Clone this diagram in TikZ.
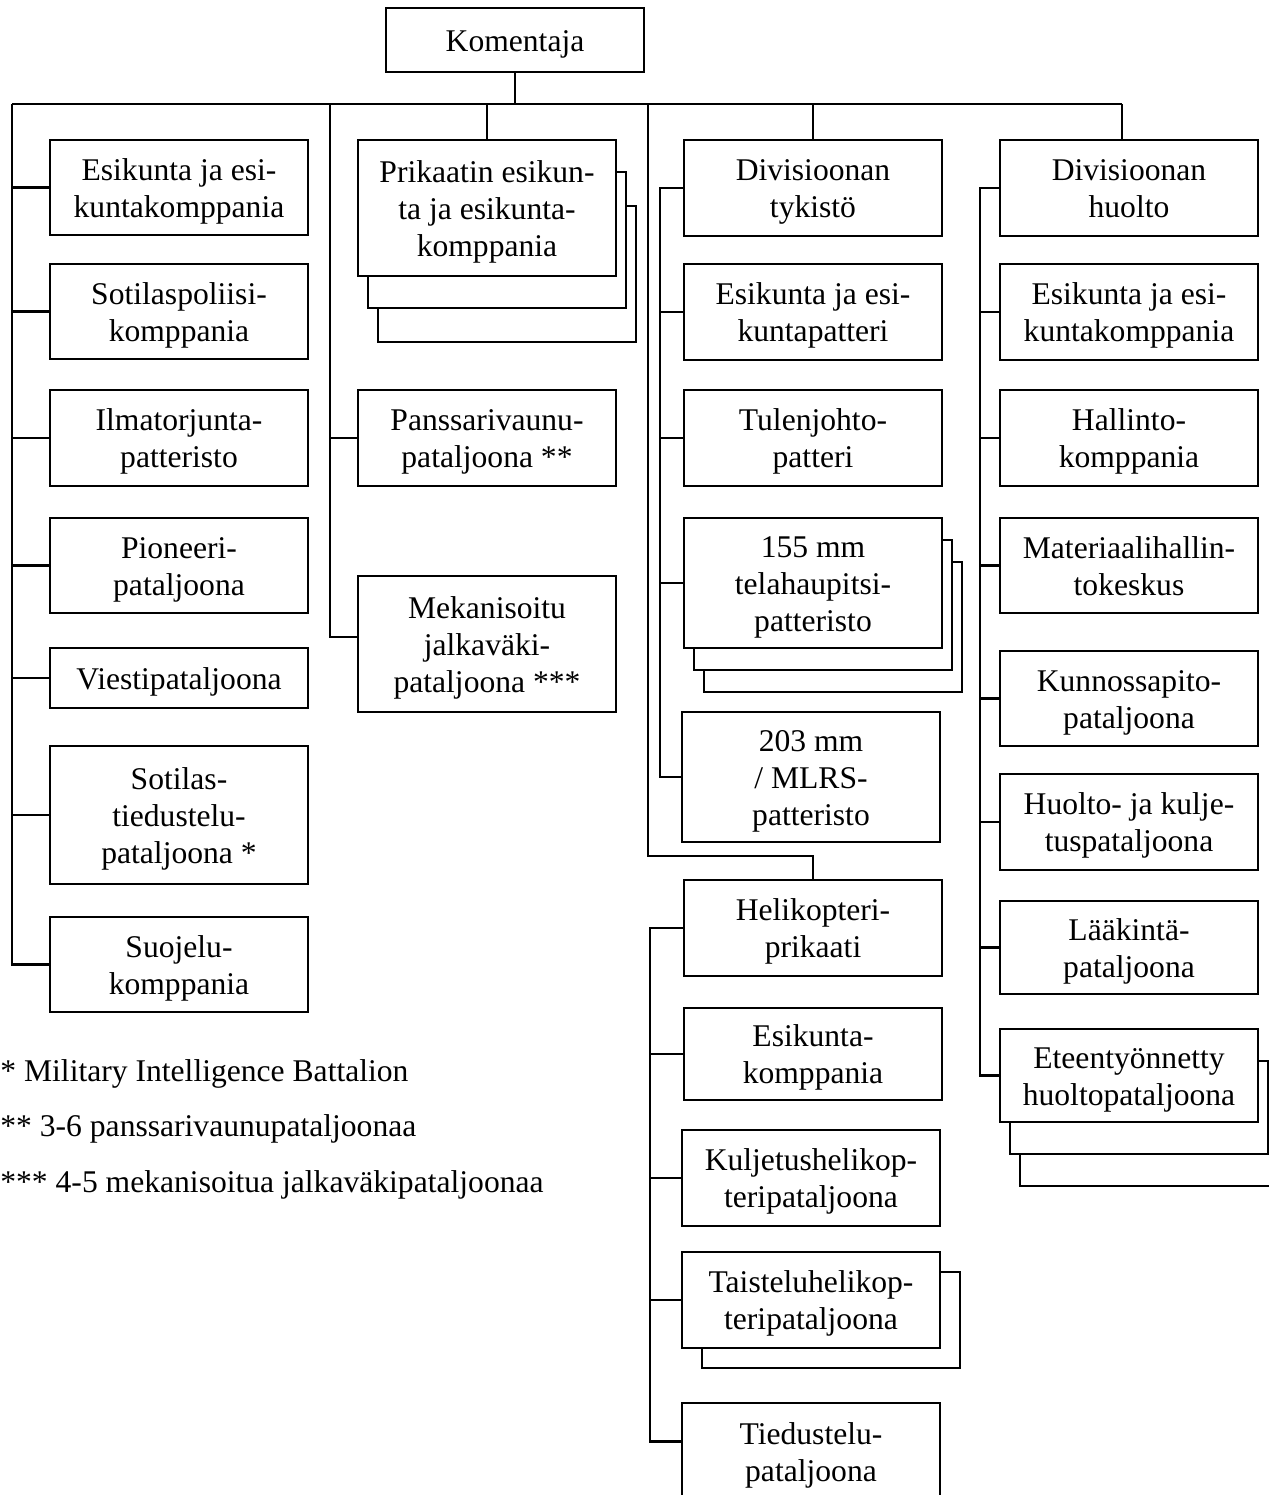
\documentclass[tikz,border=0pt]{standalone}
\usepackage{fontspec}
\setmainfont{Liberation Serif}
\newcommand{\boxfont}{\fontsize{15.8}{18.5}\selectfont}
\begin{document}
\begin{tikzpicture}[x=0.5pt,y=-0.5pt,
  box/.style={draw, line width=0.7pt, fill=white, minimum width=129pt,
    text width=127pt, inner xsep=1pt, inner ysep=0pt, align=flush center, font=\boxfont,
    execute at begin node={\rule{0pt}{15.5pt}},
    execute at end node={\rule[-4.5pt]{0pt}{0pt}}},
  backbox/.style={draw, line width=0.7pt, fill=white, minimum width=129pt, inner sep=0pt},
  conn/.style={line width=1.4pt, line join=miter},
  note/.style={anchor=base west, inner sep=0pt, font=\boxfont}]
\useasboundingbox (0,0) rectangle (1269,1495);
\clip (0,0) rectangle (1269,1495);

% commander
\node[box, minimum height=32pt] (kom) at (515,40) {Komentaja};

% first column
\node[box, minimum height=47.5pt] (c1a) at (179,187.5) {Esikunta ja esi-\\kuntakomppania};
\node[box, minimum height=47.5pt] (c1b) at (179,311.5) {Sotilaspoliisi-\\komppania};
\node[box, minimum height=48pt]   (c1c) at (179,438) {Ilmatorjunta-\\patteristo};
\node[box, minimum height=47.5pt] (c1d) at (179,565.5) {Pioneeri-\\pataljoona};
\node[box, minimum height=30pt]   (c1e) at (179,678) {Viestipataljoona};
\node[box, minimum height=69pt]   (c1f) at (179,815) {Sotilas-\\tiedustelu-\\pataljoona *};
\node[box, minimum height=47.5pt] (c1g) at (179,964.5) {Suojelu-\\komppania};

% second column
\node[backbox, minimum height=68pt] (pk3) at (507,274) {};
\node[backbox, minimum height=68pt] (pk2) at (497,240) {};
\node[box, minimum height=68pt] (pk) at (487,208) {Prikaatin esikun-\\ta ja esikunta-\\komppania};
\node[box, minimum height=48pt] (pv) at (487,438) {Panssarivaunu-\\pataljoona **};
\node[box, minimum height=68pt] (mek) at (487,644) {Mekanisoitu\\jalkaväki-\\pataljoona ***};

% divisional artillery
\node[box, minimum height=48pt] (dt) at (813,188) {Divisioonan\\tykistö};
\node[box, minimum height=48pt] (ep) at (813,312) {Esikunta ja esi-\\kuntapatteri};
\node[box, minimum height=48pt] (tj) at (813,438) {Tulenjohto-\\patteri};
\node[backbox, minimum height=65pt] (mmc) at (833,627) {};
\node[backbox, minimum height=65pt] (mmb) at (823,605) {};
\node[box, minimum height=65pt] (mma) at (813,583) {155 mm\\telahaupitsi-\\patteristo};
\node[box, minimum height=65pt] (mlrs) at (811,777) {203 mm\\/ MLRS-\\patteristo};

% helicopter brigade
\node[box, minimum height=48pt] (heli) at (813,928) {Helikopteri-\\prikaati};
\node[box, minimum height=46pt] (ek) at (813,1054) {Esikunta-\\komppania};
\node[box, minimum height=48pt] (kul) at (811,1178) {Kuljetushelikop-\\teripataljoona};
\node[backbox, minimum height=48pt] (tai2) at (831,1320) {};
\node[box, minimum height=48pt] (tai) at (811,1300) {Taisteluhelikop-\\teripataljoona};
\node[box, minimum height=48.5pt] (tied) at (811,1451.5) {Tiedustelu-\\pataljoona};

% divisional support
\node[box, minimum height=48pt] (dh) at (1129,188) {Divisioonan\\huolto};
\node[box, minimum height=48pt] (e4) at (1129,312) {Esikunta ja esi-\\kuntakomppania};
\node[box, minimum height=48pt] (hal) at (1129,438) {Hallinto-\\komppania};
\node[box, minimum height=47.5pt] (mat) at (1129,565.5) {Materiaalihallin-\\tokeskus};
\node[box, minimum height=47.5pt] (kun) at (1129,698.5) {Kunnossapito-\\pataljoona};
\node[box, minimum height=48pt] (hk) at (1129,822) {Huolto- ja kulje-\\tuspataljoona};
\node[box, minimum height=46.5pt] (laa) at (1129,947.5) {Lääkintä-\\pataljoona};
\node[backbox, minimum height=46.5pt] (ete3) at (1149,1139.5) {};
\node[backbox, minimum height=46.5pt] (ete2) at (1139,1107.5) {};
\node[box, minimum height=46.5pt] (ete) at (1129,1075.5) {Eteentyönnetty\\huoltopataljoona};

% footnotes
\node[note] (fn1) at (0,1081) {* Military Intelligence Battalion};
\node[note] (fn2) at (0,1136) {** 3-6 panssarivaunupataljoonaa};
\node[note] (fn3) at (0,1192) {*** 4-5 mekanisoitua jalkaväkipataljoonaa};

% main bus
\coordinate (busL) at (12,104);
\coordinate (busR) at (1122,104);
\coordinate (bus2) at (330,104);
\coordinate (bus3) at (648,104);
\coordinate (bus3b) at (648,856);
\draw[conn] (kom.south) -- (kom.south |- busL);
\draw[conn] (busL) -- (busR);

% first column connectors
\draw[conn] (busL) |- (c1g.west);
\foreach \n in {c1a,c1b,c1c,c1d,c1e,c1f}
  \draw[conn] (busL |- \n.west) -- (\n.west);

% second column connectors
\draw[conn] (pk.north) -- (pk.north |- busL);
\draw[conn] (bus2) |- ([yshift=3.5pt]mek.west);
\draw[conn] (bus2 |- pv.west) -- (pv.west);

% third column connectors
\draw[conn] (dt.north) -- (dt.north |- busL);
\draw[conn] (bus3) -- (bus3b) -| (heli.north);
\coordinate (tv) at (660,0);
\draw[conn] (dt.west) -- (tv |- dt.west) |- (mlrs.west);
\foreach \n in {ep,tj,mma}
  \draw[conn] (tv |- \n.west) -- (\n.west);
\coordinate (hv) at (650,0);
\draw[conn] (heli.west) -- (hv |- heli.west) |- ([yshift=5pt]tied.west);
\foreach \n in {ek,kul,tai}
  \draw[conn] (hv |- \n.west) -- (\n.west);

% fourth column connectors
\draw[conn] (busR) -- (busR |- dh.north);
\coordinate (sv) at (980,0);
\draw[conn] (dh.west) -- (sv |- dh.west) |- (ete.west);
\foreach \n in {e4,hal,mat,kun,hk,laa}
  \draw[conn] (sv |- \n.west) -- (\n.west);
\end{tikzpicture}
\end{document}
